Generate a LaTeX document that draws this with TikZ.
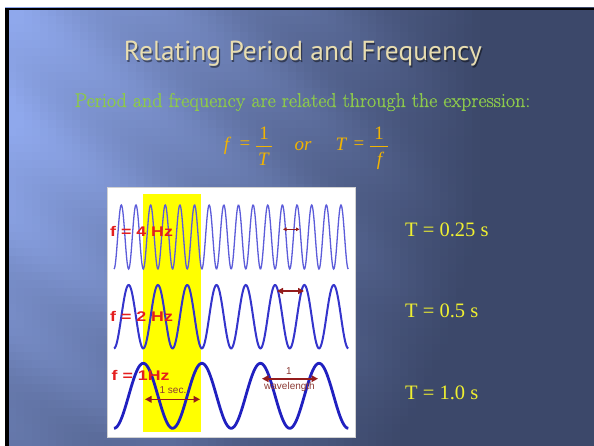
\documentclass[tikz,border=0pt]{standalone}
\usepackage{fontspec}
\usepackage{graphicx}
\newfontfamily\timesf{Liberation Serif}
\newfontfamily\titlef{PT Sans}
\newfontfamily\arialf{Liberation Sans}
\newfontfamily\subf[FakeBold=0.9]{Latin Modern Roman}
\usetikzlibrary{arrows.meta}
\definecolor{titlecol}{HTML}{E8DDB0}
\definecolor{subcol}{HTML}{8CC84C}
\definecolor{formcol}{HTML}{F2B400}
\definecolor{tcol}{HTML}{F0F030}
\definecolor{redlab}{HTML}{E41E1E}
\definecolor{arrcol}{HTML}{941C1C}
\definecolor{smallcol}{HTML}{8C3A34}
\definecolor{wavea}{HTML}{5C5CDA}
\definecolor{waveb}{HTML}{3434CC}
\definecolor{wavec}{HTML}{2020C0}
\definecolor{hiyel}{HTML}{FFFF00}
\tikzset{
  ftext/.style={text=formcol, font=\timesf\fontsize{19}{22}\selectfont, inner sep=0pt},
  tlabel/.style={text=tcol, font=\timesf\fontsize{20.5}{24}\selectfont, anchor=base west, inner sep=0pt},
  redlabel/.style={text=redlab, font=\arialf\bfseries\fontsize{14}{16}\selectfont, anchor=base west, inner sep=0pt},
  smalltext/.style={text=smallcol, font=\arialf\fontsize{10}{12}\selectfont, inner sep=0pt},
  dbl/.style={arrcol, {Triangle[length=#1,width=#1]}-{Triangle[length=#1,width=#1]}},
  fracbar/.style={formcol, line width=0.9pt},
  titletext/.style={font=\titlef\fontsize{27.5}{32}\selectfont, anchor=base, inner sep=0pt},
}
\begin{document}
\begin{tikzpicture}[x=1pt,y=-1pt]
\useasboundingbox (0,0) rectangle (594,446);
\fill[white] (0,0) rectangle (594,446);
% slide background
\begin{scope}
\clip (5,8) rectangle (594,446);
\foreach \i in {0,...,74}{
  \foreach \j in {0,...,55}{
    \edef\ww{\fpeval{max(0,min(1, (1 - sqrt(((\i*8+4)/480)^2 + (max(0,\j*8+4-150)/520)^2)) + 0.04*cos((-0.574*(\i*8+4)+0.819*(\j*8+4))/14)*max(0,min(1,3*(1 - sqrt(((\i*8+4)/480)^2 + (max(0,\j*8+4-150)/520)^2)))) ))}}
    \edef\cR{\fpeval{round(60+83*\ww)}}
    \edef\cG{\fpeval{round(72+96*\ww)}}
    \edef\cB{\fpeval{round(106+130*\ww)}}
    \definecolor{cellc}{RGB}{\cR,\cG,\cB}
    \fill[cellc] (\i*8,\j*8) rectangle ++(8.6,8.6);
  }
}
\end{scope}
\fill[black] (5,8) rectangle (594,10.5);
\fill[black] (5,8) rectangle (9,446);

% title
\node[titletext, text=black, opacity=0.45] (titleshadow) at (304.2,62.2) {Relating Period and Frequency};
\node[titletext, text=titlecol] (title) at (303,61) {Relating Period and Frequency};

% subtitle
\node[text=subcol, font=\subf\fontsize{20}{24}\selectfont, anchor=base, inner sep=0pt] (subtitle) at (302.5,107) {Period and frequency are related through the expression:};

% formula
\node[ftext, anchor=base] (f1) at (226.5,151) {\itshape f};
\node[ftext] (eq1) at (245,145.5) {=};
\node[ftext, anchor=base] (n1) at (264,139.5) {1};
\coordinate (b1l) at (256,146.5); \coordinate (b1r) at (272,146.5);
\draw[fracbar] (b1l) -- (b1r);
\node[ftext, anchor=base] (d1) at (263.5,165.5) {\itshape T};
\node[ftext, anchor=base] (or) at (303,151) {\itshape or};
\node[ftext, anchor=base] (T2) at (341,151) {\itshape T};
\node[ftext] (eq2) at (359,145.5) {=};
\node[ftext, anchor=base] (n2) at (379,139.5) {1};
\coordinate (b2l) at (369.5,146.5); \coordinate (b2r) at (388,146.5);
\draw[fracbar] (b2l) -- (b2r);
\node[ftext, anchor=base] (d2) at (379.5,165.5) {\itshape f};

% picture panel
\fill[white, draw=gray!35, line width=0.5pt] (107,187) rectangle (355,437);
\fill[hiyel] (143.3,194) rectangle (201,432);

% waves
\draw[wavea, line width=1.3pt] plot[domain=0:234.3, samples=480] ({114+\x},{237 + 32*cos(24.583*\x)});
\draw[waveb, line width=2pt] plot[domain=0:234.3, samples=300] ({114+\x},{316.7 + 31.7*cos(12.291*\x)});
\draw[wavec, line width=2.8pt] plot[domain=0:234.3, samples=200] ({114+\x},{395.8 + 32.5*cos(6.1455*\x)});

% arrows
\coordinate (a4l) at (283,229.3); \coordinate (a4r) at (299.5,229.3);
\draw[dbl=3.5pt, line width=1pt] (a4l) -- (a4r);
\coordinate (a2l) at (277,291); \coordinate (a2r) at (304,291);
\draw[dbl=6pt, line width=2.4pt] (a2l) -- (a2r);
\coordinate (a1l) at (145,399.3); \coordinate (a1r) at (200,399.3);
\draw[dbl=6.5pt, line width=1.6pt] (a1l) -- (a1r);
\coordinate (awl) at (262,378.7); \coordinate (awr) at (318,378.7);
\draw[dbl=6.5pt, line width=1.6pt] (awl) -- (awr);

% small labels
\node[smalltext] (sec) at (173,390) {1 sec.};
\node[smalltext] (one) at (289,371) {1};
\node[smalltext] (wl) at (289.5,386.5) {wavelength};

% red labels
\node[redlabel] (l4) at (110,236.7) {\scalebox{1.27}[1]{f = 4 Hz}};
\node[redlabel] (l2) at (110,321.7) {\scalebox{1.27}[1]{f = 2 Hz}};
\node[redlabel] (l1) at (111.5,380) {\scalebox{1.27}[1]{f = 1Hz}};

% period labels
\node[tlabel] (t1) at (405,236.7) {T = 0.25 s};
\node[tlabel] (t2) at (405,317.3) {T = 0.5 s};
\node[tlabel] (t3) at (405,399.3) {T = 1.0 s};
\end{tikzpicture}
\end{document}
